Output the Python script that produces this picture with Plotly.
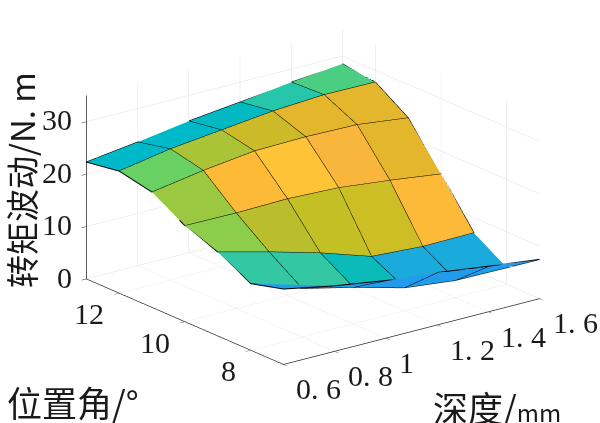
import plotly.graph_objects as go

depth = [0.6, 0.8, 1.0, 1.2, 1.4, 1.6]
angle = [13, 12, 11, 10, 9, 8, 7]
ripple = [
    [22.3, 23.6, 25.1, 26.2, 27.5, 28.5],
    [23.3, 25.0, 26.1, 27.2, 27.8, 27.7],
    [22.0, 23.6, 24.8, 25.0, 24.8, 23.6],
    [18.3, 18.2, 18.4, 18.0, 16.9, 15.6],
    [16.0, 13.5, 10.8, 7.6, 7.0, 7.1],
    [12.7, 9.3, 7.0, 4.4, 3.3, 3.2],
    [14.4, 12.5, 11.0, 10.0, 8.7, 7.5],
]
face_colors = [
    ["#00B9C8", "#00B9C8", "#00B9C3", "#26C6AA", "#4BCD82"],
    ["#69D064", "#AAC337", "#CDBA28", "#E4B62C", "#E4B62C"],
    ["#9BC841", "#FCBA37", "#FFC337", "#F8B63C", "#E4B62C"],
    ["#8CCD4B", "#B9BE2D", "#C3C026", "#CDBE26", "#FDBA38"],
    ["#34C7A3", "#34C7A3", "#0ABBBA", "#1AAADC", "#1AAADC"],
    ["#239BEB", "#239BEB", "#239BEB", "#239BEB", "#239BEB"],
]
x_ticks = [0.6, 0.8, 1.0, 1.2, 1.4, 1.6]
x_labels = ["0. 6", "0. 8", "1", "1. 2", "1. 4", "1. 6"]
y_ticks = [8, 10, 12]
z_ticks = [0, 10, 20, 30]

nr, nc = len(angle), len(depth)
vx, vy, vz = [], [], []
for r in range(nr):
    for c in range(nc):
        vx.append(depth[c]); vy.append(angle[r]); vz.append(ripple[r][c])
ti, tj, tk, fc = [], [], [], []
for r in range(nr - 1):
    for c in range(nc - 1):
        a = r * nc + c; b = a + 1; d = a + nc; e = d + 1
        ti += [a, a]; tj += [b, e]; tk += [e, d]
        fc += [face_colors[r][c]] * 2

ex, ey, ez = [], [], []
for r in range(nr):
    ex += depth + [None]; ey += [angle[r]] * nc + [None]; ez += ripple[r] + [None]
for c in range(nc):
    ex += [depth[c]] * nr + [None]; ey += angle + [None]; ez += [row[c] for row in ripple] + [None]

fig = go.Figure()
fig.add_trace(go.Mesh3d(x=vx, y=vy, z=vz, i=ti, j=tj, k=tk, facecolor=fc, flatshading=True,
                        lighting=dict(ambient=1, diffuse=0, specular=0, fresnel=0, roughness=1),
                        hoverinfo="skip", showscale=False))
fig.add_trace(go.Scatter3d(x=ex, y=ey, z=ez, mode="lines", line=dict(color="#000000", width=2),
                           hoverinfo="skip", showlegend=False))

axis = dict(showbackground=False, showgrid=True, gridcolor="#e0e0e0", gridwidth=1,
            showline=True, linecolor="#262626", linewidth=1.5, zeroline=False,
            ticks="outside", ticklen=6, tickcolor="#262626", showticklabels=False,
            title=dict(text=""), showspikes=False)

tick_font = dict(family="Liberation Serif", size=30, color="#1a1a1a")
scene_notes = []
for v, t in zip(x_ticks, x_labels):
    scene_notes.append(dict(x=v, y=7, z=0, text=t, showarrow=False, font=tick_font,
                            xanchor="left", xshift=11, yshift=-24))
for v in y_ticks:
    scene_notes.append(dict(x=0.6, y=v, z=0, text=str(v), showarrow=False, font=tick_font,
                            xanchor="right", xshift=-13, yshift=-20))
for v in z_ticks:
    scene_notes.append(dict(x=0.6, y=13, z=v, text=str(v), showarrow=False, font=tick_font,
                            xanchor="right", xshift=-12, yshift=2))

title_font = dict(family="Noto Sans CJK SC", size=35, color="#1a1a1a")
fig.update_layout(
    width=600, height=423, margin=dict(l=0, r=0, t=0, b=0),
    paper_bgcolor="white", showlegend=False,
    scene=dict(
        domain=dict(x=[0.0433, 1], y=[0.051, 0.981]),
        xaxis=dict(axis, range=[0.6, 1.6], tickvals=x_ticks),
        yaxis=dict(axis, range=[7, 13], tickvals=y_ticks),
        zaxis=dict(axis, range=[0, 35], tickvals=z_ticks),
        aspectmode="manual", aspectratio=dict(x=1.645, y=1.645, z=0.99),
        camera=dict(projection=dict(type="orthographic"),
                    eye=dict(x=-0.575 * 2, y=-0.747 * 2, z=0.334 * 2 - 0.04),
                    center=dict(x=0, y=0, z=-0.04), up=dict(x=0, y=0, z=1)),
        annotations=scene_notes,
    ),
    annotations=[
        dict(text="转矩波动/N. m", x=21 / 600, y=1 - 180 / 423, xref="paper", yref="paper", showarrow=False,
             textangle=-90, xanchor="center", yanchor="middle",
             font=dict(title_font, size=33)),
        dict(text="位置角/°", x=5 / 600, y=1 - 401 / 423, xref="paper", yref="paper", showarrow=False,
             xanchor="left", yanchor="middle", font=title_font),
        dict(text='深度/<span style="font-size:24px">mm</span>', x=497 / 600, y=1 - 406 / 423,
             xref="paper", yref="paper", showarrow=False,
             xanchor="center", yanchor="middle", font=title_font),
    ],
)
fig.write_html("out.html", config=dict(displayModeBar=False), post_script="document.body.style.margin='0';")
